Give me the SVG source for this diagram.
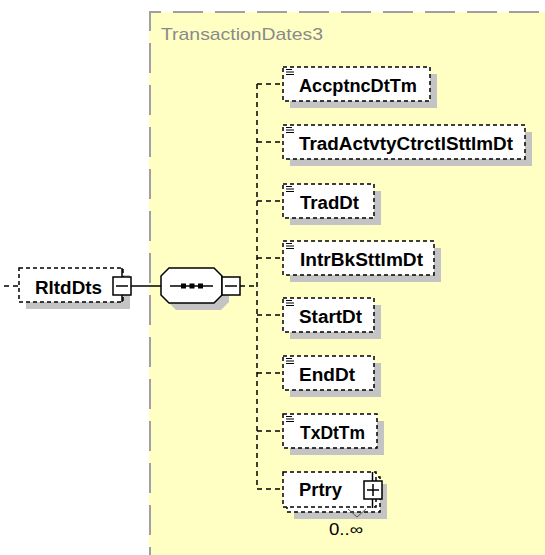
<svg xmlns="http://www.w3.org/2000/svg" width="545" height="555" viewBox="0 0 545 555">
<style>
.lbl{font-family:"Liberation Sans",Arial,sans-serif;font-weight:bold;font-size:18px;fill:#000}
.ttl{font-family:"Liberation Sans",Arial,sans-serif;font-size:17px;fill:#8a8a8a}
.occ{font-family:"Liberation Sans",Arial,sans-serif;font-size:16px;fill:#000}
.box{fill:#fff;stroke:#000;stroke-width:1.5;stroke-dasharray:4 3}
.shd{fill:#c4c4c4;stroke:none}
.btn{fill:#fff;stroke:#000;stroke-width:1.5}
.ln{stroke:#000;stroke-width:1.5;fill:none}
.dash{stroke:#000;stroke-width:1.5;fill:none;stroke-dasharray:5 4}
.ico{stroke:#000;stroke-width:1}
</style>
<defs>
<g id="ico">
<line class="ico" x1="286" y1="0.5" x2="292" y2="0.5"/>
<line class="ico" x1="286" y1="3" x2="294" y2="3"/>
<line class="ico" x1="286" y1="5.5" x2="294" y2="5.5"/>
</g>
</defs>

<g id="TransactionDates3">
<rect x="149" y="12" width="400" height="550" fill="#ffffc4"/>
<path d="M150 555 V12 H549" fill="none" stroke="#a0a0a0" stroke-width="2" stroke-dasharray="30 12" stroke-dashoffset="22"/>
<text class="ttl" x="161" y="40" textLength="162" lengthAdjust="spacingAndGlyphs">TransactionDates3</text>
</g>

<g id="connectors">
<line class="dash" x1="4" y1="286" x2="19" y2="286" stroke-dasharray="2 4"/>
<line class="ln" x1="131" y1="286" x2="161" y2="286"/>
<line class="dash" x1="240" y1="286" x2="257" y2="286"/>
<line class="dash" x1="257" y1="84" x2="257" y2="489"/>
<line class="dash" x1="257" y1="84" x2="283" y2="84"/>
<line class="dash" x1="257" y1="142" x2="283" y2="142"/>
<line class="dash" x1="257" y1="201" x2="283" y2="201"/>
<line class="dash" x1="257" y1="258" x2="283" y2="258"/>
<line class="dash" x1="257" y1="315" x2="283" y2="315"/>
<line class="dash" x1="257" y1="373" x2="283" y2="373"/>
<line class="dash" x1="257" y1="431" x2="283" y2="431"/>
<line class="dash" x1="257" y1="489" x2="283" y2="489"/>
</g>

<g id="RltdDts">
<rect class="shd" x="26" y="275" width="104" height="34"/>
<rect class="box" x="19" y="268" width="104" height="34"/>
<text class="lbl" x="35" y="294" textLength="67" lengthAdjust="spacingAndGlyphs">RltdDts</text>
<line class="ln" x1="122" y1="268" x2="122" y2="302"/>
<rect class="btn" x="113" y="277" width="18" height="18"/>
<line class="ln" x1="116" y1="286" x2="128" y2="286"/>
</g>

<g id="sequence">
<polygon class="shd" points="176,275 221,275 229,283 229,302 221,310 176,310 168,302 168,283"/>
<polygon class="btn" points="169,268 214,268 222,276 222,295 214,303 169,303 161,295 161,276"/>
<line class="ln" x1="170" y1="286" x2="213" y2="286"/>
<rect x="181" y="283.5" width="5" height="5" fill="#000"/>
<rect x="189.5" y="283.5" width="5" height="5" fill="#000"/>
<rect x="198" y="283.5" width="5" height="5" fill="#000"/>
<rect class="btn" x="222" y="277" width="18" height="18"/>
<line class="ln" x1="225" y1="286" x2="237" y2="286"/>
</g>

<g id="AccptncDtTm">
<rect class="shd" x="290" y="74" width="147" height="34"/>
<rect class="box" x="283" y="67" width="147" height="34"/>
<use href="#ico" y="69"/>
<text class="lbl" x="299" y="92" textLength="118" lengthAdjust="spacingAndGlyphs">AccptncDtTm</text>
</g>

<g id="TradActvtyCtrctlSttlmDt">
<rect class="shd" x="290" y="132" width="242" height="34"/>
<rect class="box" x="283" y="125" width="242" height="34"/>
<use href="#ico" y="127"/>
<text class="lbl" x="299" y="150" textLength="214" lengthAdjust="spacingAndGlyphs">TradActvtyCtrctlSttlmDt</text>
</g>

<g id="TradDt">
<rect class="shd" x="290" y="191" width="91" height="34"/>
<rect class="box" x="283" y="184" width="91" height="34"/>
<use href="#ico" y="186"/>
<text class="lbl" x="300" y="209" textLength="59" lengthAdjust="spacingAndGlyphs">TradDt</text>
</g>

<g id="IntrBkSttlmDt">
<rect class="shd" x="290" y="248" width="151" height="34"/>
<rect class="box" x="283" y="241" width="151" height="34"/>
<use href="#ico" y="243"/>
<text class="lbl" x="300" y="266" textLength="123" lengthAdjust="spacingAndGlyphs">IntrBkSttlmDt</text>
</g>

<g id="StartDt">
<rect class="shd" x="290" y="305" width="91" height="34"/>
<rect class="box" x="283" y="298" width="91" height="34"/>
<use href="#ico" y="300"/>
<text class="lbl" x="299" y="323" textLength="63" lengthAdjust="spacingAndGlyphs">StartDt</text>
</g>

<g id="EndDt">
<rect class="shd" x="290" y="363" width="91" height="34"/>
<rect class="box" x="283" y="356" width="91" height="34"/>
<use href="#ico" y="358"/>
<text class="lbl" x="299" y="381" textLength="56" lengthAdjust="spacingAndGlyphs">EndDt</text>
</g>

<g id="TxDtTm">
<rect class="shd" x="290" y="421" width="94" height="34"/>
<rect class="box" x="283" y="414" width="94" height="34"/>
<use href="#ico" y="416"/>
<text class="lbl" x="300" y="439" textLength="65" lengthAdjust="spacingAndGlyphs">TxDtTm</text>
</g>

<g id="Prtry">
<rect class="shd" x="294" y="484" width="93" height="35"/>
<rect class="box" x="287" y="477" width="93" height="35"/>
<rect class="box" x="283" y="472" width="93" height="35"/>
<text class="lbl" x="299" y="496" textLength="43" lengthAdjust="spacingAndGlyphs">Prtry</text>
<line class="ln" x1="372.5" y1="472" x2="372.5" y2="508"/>
<rect class="btn" x="364" y="481" width="18" height="18"/>
<line class="ln" x1="367" y1="490" x2="379" y2="490"/>
<line class="ln" x1="373" y1="484" x2="373" y2="496"/>
<polyline points="348,509 357,517 366,509" fill="none" stroke="#555" stroke-width="1"/>
<text class="occ" x="329" y="535" textLength="34" lengthAdjust="spacingAndGlyphs">0..∞</text>
</g>
</svg>
